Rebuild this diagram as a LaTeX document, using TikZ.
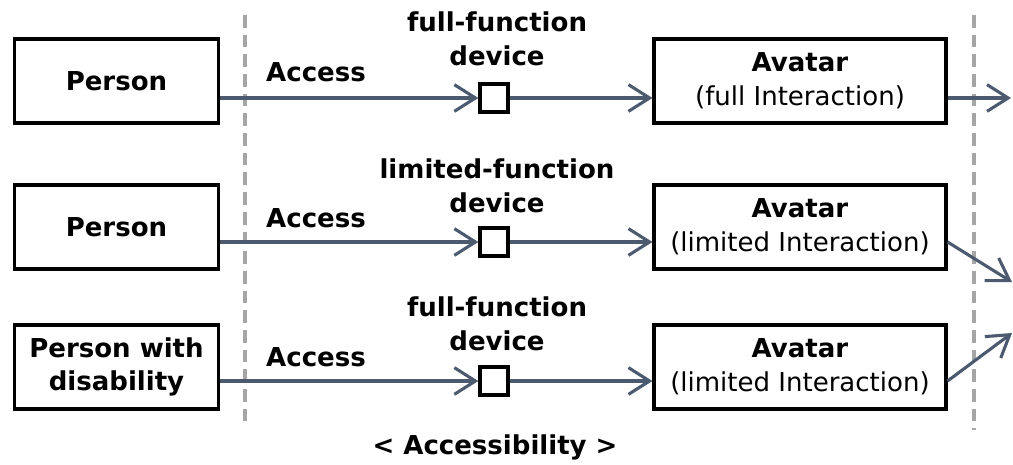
\documentclass[tikz,border=0pt]{standalone}
\usepackage{fontspec}
\setmainfont{DejaVu Sans}
\usetikzlibrary{arrows.meta,positioning}
\definecolor{linkgray}{HTML}{4B5A6E}
\definecolor{sepgray}{HTML}{A6A6A6}

\begin{document}
\begin{tikzpicture}[x=0.025cm,y=-0.025cm,
    font=\fontsize{18.5}{24}\selectfont,
    user/.style={draw,line width=2.7pt,minimum width=5.1cm,minimum height=2.08cm,align=center,font=\fontsize{18.5}{24}\selectfont\bfseries},
    avatar/.style={draw,line width=2.7pt,minimum width=7.28cm,minimum height=2.08cm,align=center,inner sep=0pt},
    device/.style={draw,line width=2.4pt,minimum size=0.7cm,inner sep=0pt},
    tag/.style={font=\fontsize{18.5}{24}\selectfont\bfseries,align=center},
    link/.style={color=linkgray,line width=2.2pt,-{Straight Barb[length=15pt,width=19pt,line width=2.2pt]}},
    sep/.style={draw=sepgray,line width=2.2pt,dash pattern=on 9pt off 5pt}]
  \useasboundingbox (0,0) rectangle (1013,465);

  % separators
  \coordinate (s1) at (245,15);
  \coordinate (s2) at (245,425);
  \coordinate (s3) at (974,15);
  \coordinate (s4) at (974,430);
  \draw[sep] (s1) -- (s2);
  \draw[sep] (s3) -- (s4);

  % users
  \node [user] (p1) at (116.5,81) {Person};
  \node [user] (p2) at (116.5,227) {Person};
  \node [user] (p3) at (116.5,367) {Person with\\disability};

  % devices
  \node [device] (d1) at (494,98) {};
  \node [device] (d2) at (494,242) {};
  \node [device] (d3) at (494,381) {};

  % avatars
  \node [avatar] (a1) at (800,81) {\textbf{Avatar}\\(full Interaction)};
  \node [avatar] (a2) at (800,227) {\textbf{Avatar}\\(limited Interaction)};
  \node [avatar] (a3) at (800,367) {\textbf{Avatar}\\(limited Interaction)};

  % labels
  \node [tag] (c1) at (316,72) {Access};
  \node [tag] (c2) at (316,218) {Access};
  \node [tag] (c3) at (316,357) {Access};
  \node [tag] (t1) at (497,39) {full-function\\device};
  \node [tag] (t2) at (497,186) {limited-function\\device};
  \node [tag] (t3) at (497,324) {full-function\\device};
  \node [tag] (acc) at (495,447) {< Accessibility >};

  \coordinate (o1) at (1011,98);
  \coordinate (o2) at (1012,282);
  \coordinate (o3) at (1012,333);

  \path[link]
    (p1.east |- d1) edge (d1)
    (d1) edge (a1.west |- d1)
    (a1.east |- d1) edge (o1)
    (p2.east |- d2) edge (d2)
    (d2) edge (a2.west |- d2)
    (a2.east |- d2) edge (o2)
    (p3.east |- d3) edge (d3)
    (d3) edge (a3.west |- d3)
    (a3.east |- d3) edge (o3);
\end{tikzpicture}
\end{document}
